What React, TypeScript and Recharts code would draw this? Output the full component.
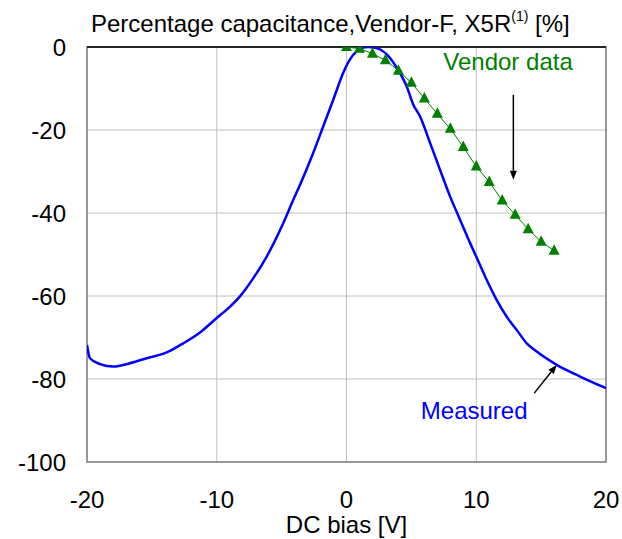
import React from 'react';
import { LineChart, Line, XAxis, YAxis, CartesianGrid, ReferenceLine, ReferenceArea, ReferenceDot } from 'recharts';

const FONT = '"Liberation Sans", Arial, sans-serif';

// measured curve (DC bias in V, % change)
const measuredX = [-20, -19.77, -19, -17.97, -16.69, -15.4, -13.86, -12.58, -11.29, -10, -9.23, -8.21, -7.18, -6.15, -4.87, -4.1, -3.58, -2.56, -1.79, -1.02, -0.25, 0.27, 0.79, 1.2, 1.68, 2.1, 2.6, 3.1, 3.87, 4.64, 5.15, 5.66, 6.44, 7.21, 7.98, 8.75, 9.52, 10.1, 10.8, 11.58, 12.35, 13.12, 13.89, 14.66, 16.2, 18, 20];
const measuredY = [-71.8, -75, -76.4, -77, -76.2, -75, -73.6, -71.4, -68.8, -65.3, -63.3, -60.1, -55.7, -50.5, -42.4, -36.8, -33.2, -25.5, -19.1, -12.7, -6.2, -3, -1, -0.2, 0, -0.1, -0.6, -1.8, -5, -9.5, -13.9, -16.7, -23.1, -29.6, -36, -41.6, -47.2, -51.2, -56.1, -61, -65, -68.2, -71.4, -73.4, -76.6, -79.4, -82.2];

// vendor datasheet points
const vendorX = [0, 1, 2, 3, 4, 5, 6, 7, 8, 9, 10, 11, 12, 13, 14, 15, 16];
const vendorY = [0, -0.4, -1.6, -3.2, -5.7, -8.6, -12.4, -16.1, -19.7, -24.1, -28.8, -32.5, -37, -40.4, -43.9, -46.9, -49.1];

const xTicks = [-20, -10, 0, 10, 20];
const yTicks = [-100, -80, -60, -40, -20, 0];

const measured = measuredX.map((x, i) => ({ x, y: measuredY[i] }));
const vendor = vendorX.map((x, i) => ({ x, y: vendorY[i] }));

const Triangle = (props: any) => {
  const { cx, cy } = props;
  if (cx == null || cy == null) return null;
  return <polygon points={`${cx},${cy - 6.5} ${cx - 5.5},${cy + 4} ${cx + 5.5},${cy + 4}`} fill="#008000" />;
};

const Arrow = (props: any) => {
  const { x1, y1, x2, y2 } = props;
  const ang = Math.atan2(y2 - y1, x2 - x1);
  const len = 9;
  const w = 3.5;
  const bx = x2 - len * Math.cos(ang);
  const by = y2 - len * Math.sin(ang);
  const px = -Math.sin(ang) * w;
  const py = Math.cos(ang) * w;
  return (
    <g>
      <line x1={x1} y1={y1} x2={bx} y2={by} stroke="#000" strokeWidth={1.5} />
      <polygon points={`${x2},${y2} ${bx + px},${by + py} ${bx - px},${by - py}`} fill="#000" />
    </g>
  );
};

export default function App() {
  return (
    <div style={{ position: 'absolute', left: 0, top: 0, width: 622, height: 539, background: '#fff', fontFamily: FONT }}>
      <div style={{ position: 'absolute', left: 91, top: 12, fontSize: 24, lineHeight: '24px', color: '#000', whiteSpace: 'nowrap' }}>
        Percentage capacitance,Vendor-F, X5R
        <span style={{ fontSize: 14, position: 'relative', top: -11 }}>(1)</span> [%]
      </div>
      <LineChart width={622} height={539} margin={{ top: 47, right: 16, bottom: 0, left: 0 }}>
        <CartesianGrid stroke="#C0C0C0" strokeWidth={1} />
        <XAxis
          type="number"
          dataKey="x"
          domain={[-20, 20]}
          ticks={xTicks}
          allowDataOverflow
          axisLine={false}
          tickLine={false}
          tickSize={0}
          tickMargin={29}
          height={77}
          tick={{ fill: '#000', fontSize: 24, fontFamily: FONT }}
          label={{ value: 'DC bias [V]', position: 'insideBottom', offset: 6, fill: '#000', fontSize: 24, fontFamily: FONT }}
        />
        <YAxis
          type="number"
          domain={[-100, 0]}
          ticks={yTicks}
          allowDataOverflow
          axisLine={false}
          tickLine={false}
          tickSize={0}
          tickMargin={21}
          width={87}
          tick={{ fill: '#000', fontSize: 24, fontFamily: FONT }}
        />
        <ReferenceArea x1={-20} x2={20} y1={-100} y2={0} fill="none" stroke="#808080" strokeWidth={1.5} />
        <ReferenceLine y={0} stroke="#000" strokeWidth={1.5} />
        <Line
          data={measured}
          dataKey="y"
          type="monotone"
          stroke="#0000FF"
          strokeWidth={2.5}
          dot={false}
          isAnimationActive={false}
        />
        <Line
          data={vendor}
          dataKey="y"
          type="linear"
          stroke="#008000"
          strokeWidth={1}
          dot={<Triangle />}
          isAnimationActive={false}
        />
        <ReferenceLine segment={[{ x: 12.86, y: -11.5 }, { x: 12.86, y: -32 }]} shape={(p: any) => <Arrow {...p} />} />
        <ReferenceLine segment={[{ x: 14.47, y: -83.4 }, { x: 16.2, y: -76.6 }]} shape={(p: any) => <Arrow {...p} />} />
        <ReferenceDot
          x={12.45}
          y={-3.6}
          r={0}
          fill="none"
          stroke="none"
          label={{ value: 'Vendor data', position: 'center', fill: '#008000', fontSize: 24, fontFamily: FONT }}
        />
        <ReferenceDot
          x={9.84}
          y={-87.5}
          r={0}
          fill="none"
          stroke="none"
          label={{ value: 'Measured', position: 'center', fill: '#0000FF', fontSize: 24, fontFamily: FONT }}
        />
      </LineChart>
    </div>
  );
}
